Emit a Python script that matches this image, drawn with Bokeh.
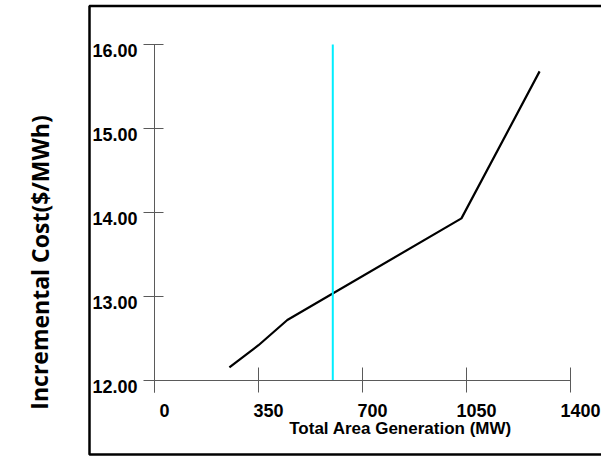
from bokeh.plotting import figure
from bokeh.models import LinearAxis, FixedTicker, Range1d, Label, BoxAnnotation
from bokeh.core.properties import value
from bokeh.embed import file_html
from bokeh.resources import INLINE

# ---- data ----
gen_mw = [252, 350, 447, 1033, 1296]
incr_cost = [12.155, 12.42, 12.72, 13.93, 15.68]
lambda_mw = [600, 600]
lambda_cost = [12.0, 16.0]
x_ticks = [0, 350, 700, 1050, 1400]
x_tick_labels = ["0", "350", "700", "1050", "1400"]
y_ticks = [12, 13, 14, 15, 16]
y_tick_labels = ["12.00", "13.00", "14.00", "15.00", "16.00"]
x_title = "Total Area Generation (MW)"
y_title = "Incremental Cost($/MWh)"

# ---- geometry (pixel layout of the canvas) ----
W, H = 601, 456
PX_PER_MW = 416 / 1400.0
X0_PX = 154
PX_PER_UNIT = 84.0
Y12_PX = 380


def px_x(px):
    return (px - X0_PX) / PX_PER_MW


def px_y(py):
    return 12 + (Y12_PX - py) / PX_PER_UNIT


p = figure(width=W, height=H,
           x_range=Range1d(px_x(0), px_x(W)),
           y_range=Range1d(px_y(H), px_y(0)),
           output_backend="svg", toolbar_location=None,
           x_axis_type=None, y_axis_type=None,
           min_border=0, min_border_left=0, min_border_right=0,
           min_border_top=0, min_border_bottom=0,
           outline_line_color=None, background_fill_color="white",
           border_fill_color="white")

AX_COL = "#5a5a5a"
xaxis = LinearAxis(fixed_location=12, ticker=FixedTicker(ticks=x_ticks),
                   bounds=(px_x(144), 1400),
                   major_tick_in=13, major_tick_out=12,
                   minor_tick_line_color=None,
                   axis_line_color=AX_COL, major_tick_line_color=AX_COL,
                   major_label_overrides={t: "" for t in x_ticks})
p.add_layout(xaxis, "below")

yaxis = LinearAxis(fixed_location=0, ticker=FixedTicker(ticks=y_ticks),
                   bounds=(px_y(392), 16),
                   major_tick_in=9, major_tick_out=11,
                   minor_tick_line_color=None,
                   axis_line_color=AX_COL, major_tick_line_color=AX_COL,
                   major_label_overrides={t: "" for t in y_ticks})
p.add_layout(yaxis, "left")

# outer frame
p.add_layout(BoxAnnotation(left=px_x(89), right=px_x(W + 40),
                           top=px_y(5.5), bottom=px_y(454),
                           fill_alpha=0, line_color="black", line_alpha=1.0,
                           line_width=2.5))

# tick labels
p.text(x=x_ticks, y=[y_ticks[0]] * len(x_ticks), text=x_tick_labels,
       x_offset=10, y_offset=30, text_align="center", text_baseline="middle",
       text_font=value("Liberation Sans"), text_font_style="bold",
       text_font_size="18px", text_color="black")
p.text(x=[x_ticks[0]] * len(y_ticks), y=y_ticks, text=y_tick_labels,
       x_offset=-17, y_offset=6, text_align="right", text_baseline="middle",
       text_font=value("Liberation Sans"), text_font_style="bold",
       text_font_size="18px", text_color="black")

# data
p.line(gen_mw, incr_cost, line_color="black", line_width=2.2)
p.line(lambda_mw, lambda_cost, line_color="#00EEFF", line_width=2)

# titles
p.add_layout(Label(x=px_x(400), y=px_y(428), text=x_title,
                   text_align="center", text_baseline="middle",
                   text_font="Liberation Sans", text_font_style="bold",
                   text_font_size="17px", text_color="black"))
p.add_layout(Label(x=px_x(39), y=px_y(262), text=y_title, angle=1.5707963,
                   text_align="center", text_baseline="middle",
                   text_font="Open Sans", text_font_style="bold",
                   text_font_size="23px", text_color="black"))

open("out.html", "w").write(file_html(p, INLINE))
